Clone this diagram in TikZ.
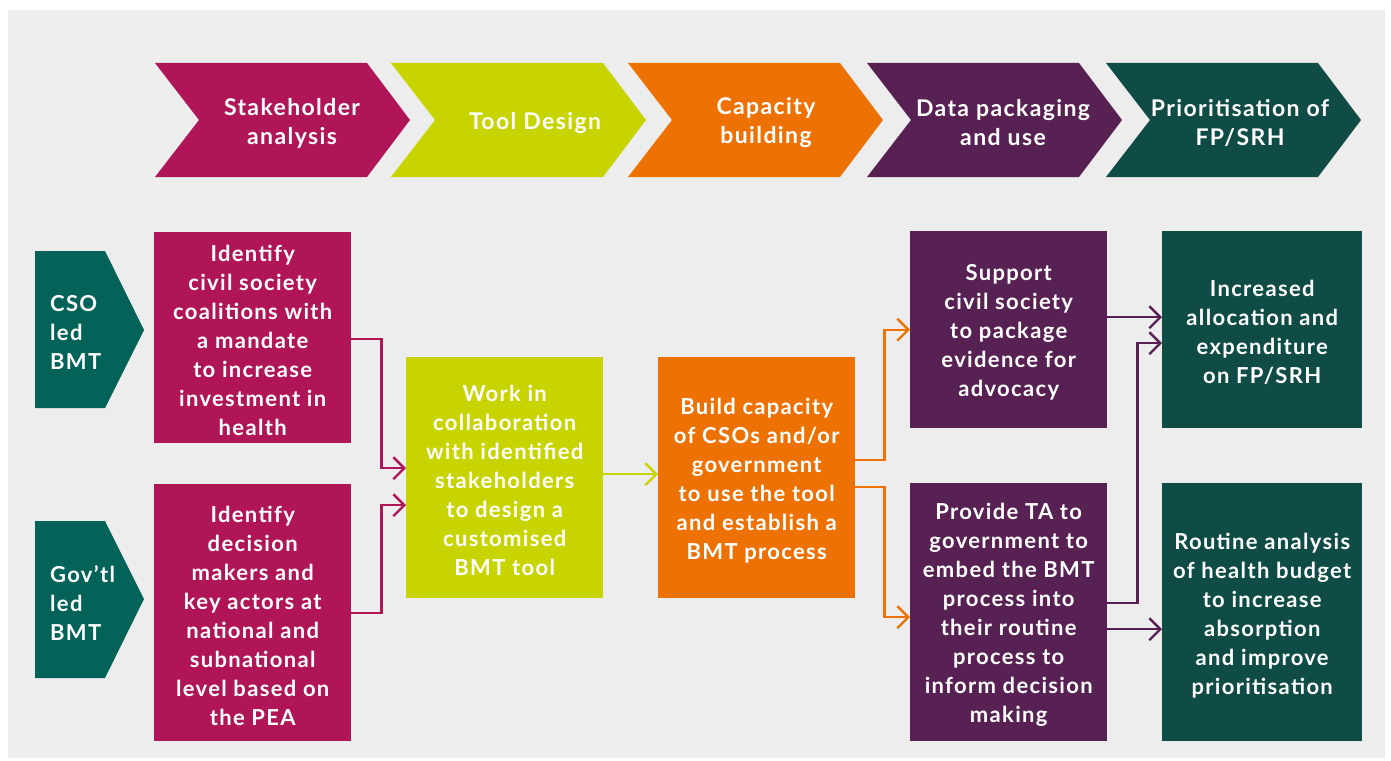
\documentclass[tikz,border=0pt]{standalone}
\usepackage{fontspec}
\setmainfont{Lato}[LetterSpace=6]
\usetikzlibrary{arrows.meta,calc}
\definecolor{bgc}{HTML}{EDEDED}
\definecolor{mag}{HTML}{B01657}
\definecolor{lime}{HTML}{C8D400}
\definecolor{orng}{HTML}{EE7203}
\definecolor{purp}{HTML}{582153}
\definecolor{dgreen}{HTML}{0F4C45}
\definecolor{teal}{HTML}{036358}
\tikzset{
  txt/.style={text=white,font=\fontsize{22}{29}\selectfont\bfseries,align=center,inner sep=0pt},
  head/.style={txt,font=\fontsize{23}{29}\selectfont\bfseries},
  box/.style={txt,minimum width=#1,anchor=north west,text width=#1-4pt},
  conn/.style={line width=2.4pt,-{Straight Barb[length=11pt,width=22pt,line width=2.4pt]}},
}
\begin{document}
\begin{tikzpicture}[x=1pt,y=-1pt]
\useasboundingbox (0,0) rectangle (1391,760);
\fill[bgc] (8,10) rectangle (1385,758);
% chevrons
\foreach \l/\c/\n in {155/mag/c1,391/lime/c2,628/orng/c3,867/purp/c4,1106/dgreen/c5}{
  \fill[\c] (\l,63) -- (\l+212,63) -- (\l+255,120) -- (\l+212,177) -- (\l,177) -- (\l+44,120) -- cycle;
}
\node[head] (t1) at (292,123) {Stakeholder\\analysis};
\node[head] (t2) at (535,123) {Tool Design};
\node[head] (t3) at (766,123) {Capacity\\building};
\node[head] (t4) at (1003,123) {Data packaging\\and use};
\node[head] (t5) at (1240,123) {Prioritisation of\\FP/SRH};
% left pentagons
\fill[teal] (35,251) -- (105,251) -- (144,330) -- (105,408) -- (35,408) -- cycle;
\fill[teal] (35,521) -- (105,521) -- (144,599) -- (105,678) -- (35,678) -- cycle;
\node[txt,align=left,anchor=west] (cso) at (50,332) {CSO\\led\\BMT};
\node[txt,align=left,anchor=west] (gov) at (50,603) {Gov'tl\\led\\BMT};
% boxes
\node[box=197pt,fill=mag,minimum height=211pt] (b1) at (154,232) {};
\node[txt] at ($(b1.center)+(0,3)$) {Identify\\civil society\\coalitions with\\a mandate\\to increase\\investment in\\health};
\node[box=197pt,fill=mag,minimum height=257pt] (b2) at (154,484) {};
\node[txt] at ($(b2.center)+(0,3)$) {Identify\\decision\\makers and\\key actors at\\national and\\subnational\\level based on\\the PEA};
\node[box=197pt,fill=lime,minimum height=241pt] (lm) at (406,357) {};
\node[txt] at ($(lm.center)+(0,3)$) {Work in\\collaboration\\with identified\\stakeholders\\to design a\\customised\\BMT tool};
\node[box=197pt,fill=orng,minimum height=241pt] (or) at (658,357) {};
\node[txt] at ($(or.center)+(0,3)$) {Build capacity\\of CSOs and/or\\government\\to use the tool\\and establish a\\BMT process};
\node[box=197pt,fill=purp,minimum height=197pt] (p1) at (910,231) {};
\node[txt] at ($(p1.center)+(0,3)$) {Support\\civil society\\to package\\evidence for\\advocacy};
\node[box=197pt,fill=purp,minimum height=258pt] (p2) at (910,483) {};
\node[txt] at ($(p2.center)+(0,3)$) {Provide TA to\\government to\\embed the BMT\\process into\\their routine\\process to\\inform decision\\making};
\node[box=200pt,fill=dgreen,minimum height=197pt] (g1) at (1162,231) {};
\node[txt] at ($(g1.center)+(0,3)$) {Increased\\allocation and\\expenditure\\on FP/SRH};
\node[box=200pt,fill=dgreen,minimum height=258pt] (g2) at (1162,483) {};
\node[txt] at ($(g2.center)+(0,3)$) {Routine analysis\\of health budget\\to increase\\absorption\\and improve\\prioritisation};
% connectors
\draw[conn,mag] ($(b1.east)+(0,1.5)$) -- ++(30,0) |- ($(lm.west)+(0,-9.5)$);
\draw[conn,mag] (b2.east) -- ++(30,0) |- ($(lm.west)+(0,27.5)$);
\draw[conn,lime] ($(lm.east)+(0,-3.5)$) -- ($(or.west)+(0,-3.5)$);
\draw[conn,orng] ($(or.east)+(0,-17.5)$) -- ++(29,0) |- (p1.west);
\draw[conn,orng] ($(or.east)+(0,9.5)$) -- ++(29,0) |- ($(p2.west)+(0,5)$);
\draw[conn,purp] ($(p1.east)+(0,-12.5)$) -- ($(g1.west)+(0,-12.5)$);
\draw[conn,purp] ($(p2.east)+(0,-9)$) -- ++(30,0) |- ($(g1.west)+(0,13.5)$);
\draw[conn,purp] ($(p2.east)+(0,17)$) -- ($(g2.west)+(0,17)$);
\end{tikzpicture}
\end{document}
